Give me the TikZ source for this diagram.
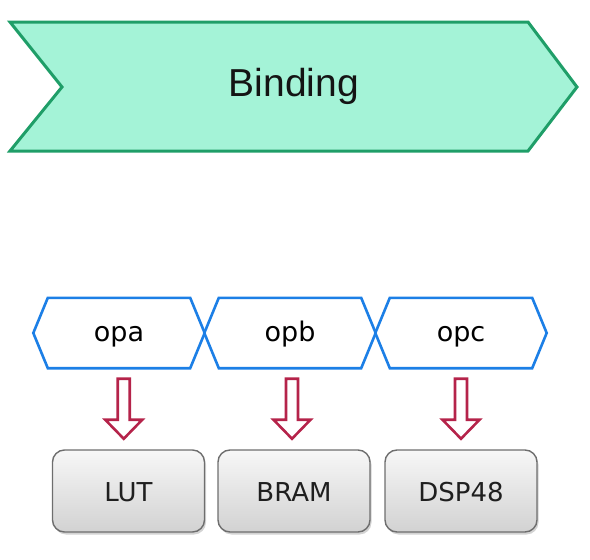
\documentclass[tikz,border=0pt]{standalone}
\usepackage{fontspec}
\setmainfont{DejaVu Sans}
\newfontfamily\bindfont{Liberation Sans}
\usetikzlibrary{shadows,calc}
\definecolor{mintfill}{HTML}{A4F3D7}
\definecolor{mintline}{HTML}{1F9E68}
\definecolor{hexline}{HTML}{1C7FE6}
\definecolor{arrowred}{HTML}{B5234A}
\definecolor{boxline}{HTML}{6E6E6E}
\definecolor{boxtop}{HTML}{F7F7F7}
\definecolor{boxbot}{HTML}{D2D2D2}
\tikzset{
  hexbox/.style={minimum width=142pt, minimum height=70pt, inner sep=0pt,
     text height=17pt, text depth=0pt,
     font=\fontsize{27}{32}\selectfont},
  hexline/.style={draw=hexline, line width=2.6pt, fill=white, line join=miter},
  resbox/.style={draw=boxline, line width=1.4pt, rounded corners=12pt,
     minimum width=152pt, minimum height=82pt, inner sep=0pt,
     text height=21pt, text depth=0pt,
     top color=boxtop, bottom color=boxbot, text=black!88,
     drop shadow={opacity=0.35, shadow xshift=1.5pt, shadow yshift=-2.5pt},
     font=\fontsize{26}{32}\selectfont},
  hollowarrow/.style={draw=arrowred, line width=2.6pt, fill=white, line join=miter},
  chev/.style={draw=mintline, fill=mintfill, line width=3pt, line join=miter}
}
\begin{document}
\begin{tikzpicture}[x=1pt,y=-1pt]
\useasboundingbox (0,0) rectangle (590,560);
% chevron
\coordinate (c1) at (10,22);
\coordinate (c2) at (528,22);
\coordinate (c3) at (577,87);
\coordinate (c4) at (528,151);
\coordinate (c5) at (10,151);
\coordinate (c6) at (62,87);
\draw[chev] (c1) -- (c2) -- (c3) -- (c4) -- (c5) -- (c6) -- cycle;
\node[font=\bindfont\fontsize{39}{46}\selectfont, anchor=base, text=black!92] (binding) at (294,96.5) {Binding};
% hexagons
\foreach \n/\x/\t in {opa/119/opa, opb/290/opb, opc/461/opc}{
  \node[hexbox] (\n) at (\x,333) {};
  \draw[hexline] (\n.north west) -- (\n.north east) -- ([xshift=14.5pt]\n.east)
     -- (\n.south east) -- (\n.south west) -- ([xshift=-14.5pt]\n.west) -- cycle;
  \node[hexbox] at (\n) {\t};
}
% resource boxes
\node[resbox] (lut) at (128.5,491) {LUT};
\node[resbox] (bram) at (294,491) {BRAM};
\node[resbox] (dsp) at (461,491) {DSP48};
% hollow arrows
\foreach \a/\b in {opa/lut, opb/bram, opc/dsp}{
  \coordinate (m\a) at ($(\a.south)!0.5!(\b.north)$);
  \draw[hollowarrow] ([shift={(-6pt,30pt)}]m\a) -- ([shift={(6pt,30pt)}]m\a)
     -- ([shift={(6pt,-11pt)}]m\a) -- ([shift={(18.5pt,-11pt)}]m\a)
     -- ([shift={(0pt,-30pt)}]m\a) -- ([shift={(-18.5pt,-11pt)}]m\a)
     -- ([shift={(-6pt,-11pt)}]m\a) -- cycle;
}
\end{tikzpicture}
\end{document}
